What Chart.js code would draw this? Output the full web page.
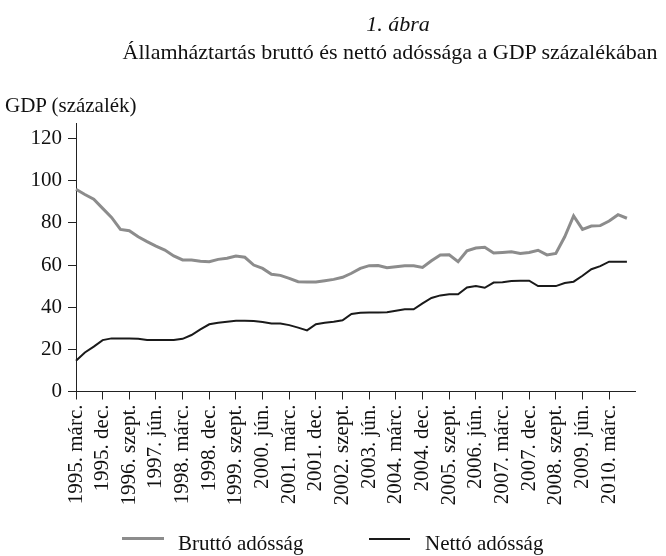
<!DOCTYPE html>
<html lang="hu">
<head>
    <meta charset="UTF-8">
    <title>Államháztartás bruttó és nettó adóssága</title>
    <script src="https://cdn.jsdelivr.net/npm/chart.js"></script>
    <style>
        body { margin: 0; background: #fff; font-family: "Liberation Serif", "Times New Roman", serif; color: #111; }
        .wrap { position: relative; width: 666px; height: 556px; overflow: hidden; }
        #debtChart { position: absolute; left: 0; top: 0; }
        .txt { position: absolute; white-space: nowrap; }
        .title1 { top: 13px; left: 130px; width: 536px; text-align: center; font-size: 22px; line-height: 22px; font-style: italic; }
        .title2 { top: 41px; left: 114px; width: 552px; text-align: center; font-size: 22px; line-height: 22px; }
        .unit { top: 95px; left: 5px; font-size: 21px; line-height: 21px; }
        .leg-line { position: absolute; }
        .leg-text { top: 533px; font-size: 21px; line-height: 21px; }
    </style>
</head>
<body>
<div class="wrap">
    <canvas id="debtChart" width="666" height="556"></canvas>
    <div class="txt title1">1. ábra</div>
    <div class="txt title2">Államháztartás bruttó és nettó adóssága a GDP százalékában</div>
    <div class="txt unit">GDP (százalék)</div>

    <!-- jelmagyarázat -->
    <div class="leg-line" style="left:122px; top:537px; width:42px; height:3px; background:#8c8c8c;"></div>
    <div class="txt leg-text" style="left:178px;">Bruttó adósság</div>
    <div class="leg-line" style="left:369px; top:538px; width:41px; height:2px; background:#1a1a1a;"></div>
    <div class="txt leg-text" style="left:425px;">Nettó adósság</div>
</div>

<script>
    // negyedévek 1995. márc. - 2010. dec.
    const years = [1995, 1996, 1997, 1998, 1999, 2000, 2001, 2002, 2003, 2004, 2005, 2006, 2007, 2008, 2009, 2010];
    const months = ['márc.', 'jún.', 'szept.', 'dec.'];
    const quarters = [];
    years.forEach(y => months.forEach(m => quarters.push(y + '. ' + m)));

    // csak minden harmadik negyedévnél van felirat (utolsó: 2010. márc.)
    const labelStep = 3;
    const lastLabelIndex = 60;

    // bruttó adósság, GDP %
    const brutto = [96.0, 93.5, 91.2, 86.9, 82.6, 76.9, 76.3, 73.4, 71.1, 69.0, 67.1, 64.3, 62.4, 62.4, 61.8, 61.6,
                    62.7, 63.2, 64.3, 63.7, 60.0, 58.4, 55.6, 55.1, 53.7, 52.1, 51.9, 52.0, 52.6, 53.2, 54.2, 56.1,
                    58.4, 59.7, 59.8, 58.7, 59.2, 59.7, 59.7, 58.9, 62.0, 64.8, 64.9, 61.6, 66.8, 68.1, 68.4, 65.7,
                    66.0, 66.3, 65.5, 66.0, 67.0, 64.8, 65.5, 73.4, 83.3, 76.9, 78.5, 78.7, 80.9, 83.9, 82.2];

    // nettó adósság, GDP %
    const netto = [14.6, 18.5, 21.3, 24.4, 25.2, 25.2, 25.2, 25.0, 24.4, 24.4, 24.4, 24.4, 25.0, 26.8, 29.5, 31.9,
                   32.6, 33.1, 33.6, 33.6, 33.4, 33.0, 32.3, 32.3, 31.5, 30.3, 29.0, 31.9, 32.6, 33.1, 33.8, 36.8,
                   37.4, 37.5, 37.5, 37.6, 38.3, 39.0, 39.0, 41.8, 44.4, 45.6, 46.1, 46.1, 49.4, 50.0, 49.2, 51.7,
                   51.8, 52.4, 52.6, 52.6, 50.0, 50.0, 50.0, 51.5, 52.1, 54.9, 58.0, 59.5, 61.6, 61.6, 61.6];

    const font = { family: '"Liberation Serif", "Times New Roman", serif', size: 21 };
    const showTick = i => i % labelStep === 0 && i <= lastLabelIndex;

    const ctx = document.getElementById('debtChart').getContext('2d');
    const debtChart = new Chart(ctx, {
        type: 'line',
        data: {
            labels: quarters,
            datasets: [
                {
                    label: 'Bruttó adósság',
                    data: brutto,
                    borderColor: '#8c8c8c',
                    borderWidth: 3,
                    pointRadius: 0,
                    tension: 0,
                    fill: false
                },
                {
                    label: 'Nettó adósság',
                    data: netto,
                    borderColor: '#1a1a1a',
                    borderWidth: 2,
                    pointRadius: 0,
                    tension: 0,
                    fill: false
                }
            ]
        },
        options: {
            responsive: false,
            animation: false,
            layout: { padding: { left: 0, right: 15, top: 123, bottom: 34.5 } },
            plugins: {
                legend: { display: false },
                tooltip: { enabled: false }
            },
            scales: {
                x: {
                    offset: false,
                    afterFit: s => { s.height = 130; },
                    border: { display: true, color: '#222', width: 1 },
                    grid: {
                        drawOnChartArea: false,
                        drawTicks: true,
                        tickLength: 8,
                        tickColor: c => showTick(c.index) ? '#222' : 'rgba(0,0,0,0)'
                    },
                    ticks: {
                        autoSkip: false,
                        minRotation: 90,
                        maxRotation: 90,
                        padding: 5,
                        color: '#111',
                        font: font,
                        callback: (v, i) => showTick(i) ? quarters[i] : ''
                    }
                },
                y: {
                    min: 0,
                    max: 127.4,
                    afterFit: s => { s.width = 76; },
                    border: { display: true, color: '#222', width: 1 },
                    grid: { drawOnChartArea: false, drawTicks: true, tickLength: 8, tickColor: '#222' },
                    ticks: {
                        stepSize: 20,
                        includeBounds: false,
                        padding: 6,
                        color: '#111',
                        font: font
                    }
                }
            }
        }
    });
</script>
</body>
</html>
